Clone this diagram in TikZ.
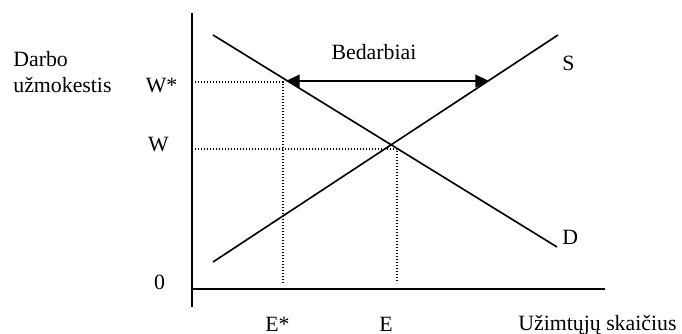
\documentclass[tikz,border=0pt]{standalone}
\usepackage{fontspec}
\setmainfont{Liberation Serif}
\usetikzlibrary{arrows.meta}
\tikzset{
  lm diagram/.style={font=\fontsize{12}{14}\selectfont, text=black,
    line cap=butt, line join=miter},
  lm axis/.style={draw=black, line width=1.1pt},
  lm curve/.style={draw=black, line width=0.9pt},
  lm guide/.style={draw=black, line width=0.6pt,
    dash pattern=on 0.7pt off 0.95pt},
  lm arrow/.style={{Triangle[length=7.5pt,width=7pt]}-{Triangle[length=7.5pt,width=7pt]},
    draw=black, line width=0.9pt},
  lm label/.style={inner sep=0pt, anchor=base}
}

\begin{document}
\begin{tikzpicture}[lm diagram,x=0.55pt,y=-0.55pt]
\useasboundingbox (0,0) rectangle (682,334);
% axes
\coordinate (top) at (192,13);
\coordinate (bottom) at (192,307);
\coordinate (origin) at (192,289);
\coordinate (right) at (605,289);
\draw[lm axis] (top) -- (bottom);
\draw[lm axis] (origin) -- (right);
% demand and supply
\coordinate (d0) at (213,35);
\coordinate (d1) at (557,247);
\coordinate (s0) at (213,262);
\coordinate (s1) at (558,35);
\draw[lm curve] (d0) -- (d1);
\draw[lm curve] (s0) -- (s1);
% dotted guides
\coordinate (wstar) at (192,82);
\coordinate (w) at (192,149);
\coordinate (estar) at (283,82);
\coordinate (e) at (397,149);
\coordinate (estar base) at (283,283);
\coordinate (e base) at (397,283);
\draw[lm guide] (wstar) -- (estar) -- (estar base);
\draw[lm guide] (w) -- (e) -- (e base);
% unemployment gap
\coordinate (gap left) at (286,81);
\coordinate (gap right) at (489,81);
\draw[lm arrow] (gap left) -- (gap right);
\node[lm label] (gap) at (374,60) {Bedarbiai};
% labels
\node[lm label,anchor=base west] (wage1) at (13,67) {Darbo};
\node[lm label,anchor=base west] (wage2) at (13,93) {užmokestis};
\node[lm label] (wstar label) at (161.5,93) {W*};
\node[lm label] (w label) at (158.5,152) {W};
\node[lm label] (zero) at (159.5,290) {0};
\node[lm label,anchor=base west] (supply) at (562,71) {S};
\node[lm label,anchor=base west] (demand) at (562,245) {D};
\node[lm label] (estar label) at (277.5,332) {E*};
\node[lm label] (e label) at (386,332) {E};
\node[lm label,anchor=base west] (employed) at (518,331) {Užimtųjų skaičius};
\end{tikzpicture}
\end{document}
